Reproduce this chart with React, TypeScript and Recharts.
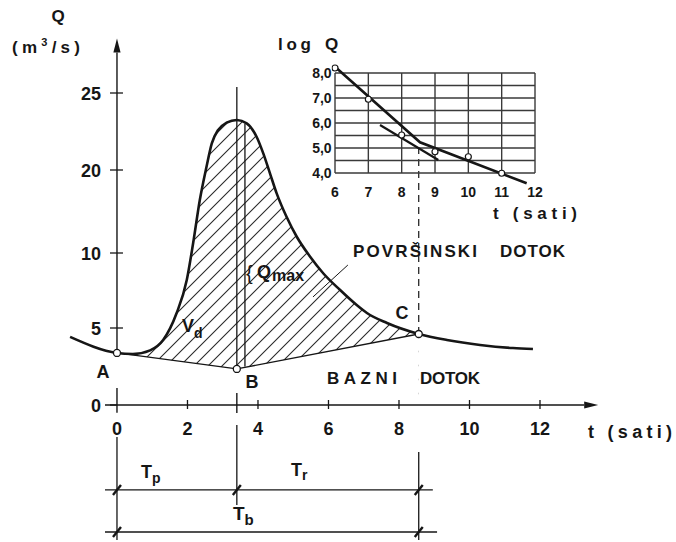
import React from 'react';
import { ComposedChart, Line, Area, XAxis, YAxis, ReferenceLine, ReferenceDot } from 'recharts';

// hydrograph Q(t) (t in hours, Q in m3/s)
const flowT = [-1.33, 0, 0.45, 0.94, 1.31, 1.69, 1.98, 2.16, 2.35, 2.54, 2.69, 2.87, 3.11, 3.4, 3.68, 3.96, 4.15, 4.34, 4.53, 4.81, 5.1, 5.48, 5.85, 6.33, 6.8, 7.09, 7.66, 8.56, 9.36, 10.3, 11.23, 11.8];
const flowQ = [4.42, 3.38, 3.31, 3.55, 4.22, 5.98, 8.2, 11.17, 16.39, 20.21, 21.73, 22.6, 23.07, 23.25, 23.03, 22.16, 21.08, 19.6, 17.19, 14.37, 11.96, 9.75, 8.65, 7.53, 6.53, 6.0, 5.33, 4.61, 4.22, 3.9, 3.7, 3.64];

// base flow separation A - B - C
const baseNames = ['A', 'B', 'C'];
const baseT = [0, 3.4, 8.56];
const baseQ = [3.38, 2.34, 4.61];

// axes
const xTicks = [0, 2, 4, 6, 8, 10, 12];
const yTicks = [0, 5, 10, 20, 25];
const yKnots = [0, 5, 10, 20, 25, 28.5];
const yFrac = [0, 77 / 365, 152 / 365, 235 / 365, 312 / 365, 1];

// inset: log Q recession
const logT = [6, 7, 8, 9, 10, 11];
const logQ = [8.2, 6.95, 5.52, 4.85, 4.65, 3.99];
const fit1T = [6, 8.55, 11.75];
const fit1Q = [8.25, 5.23, 3.59];
const fit2T = [7.35, 9.1];
const fit2Q = [5.92, 4.52];
const logTicksT = [6, 7, 8, 9, 10, 11, 12];
const logTicksQ = [4, 5, 6, 7, 8];
const logGridQ = [4, 4.5, 5, 5.5, 6, 6.5, 7, 7.5, 8];

const INK = '#161616';
const FONT = "'Liberation Sans', Arial, sans-serif";

const W = 676;
const H = 542;
const X_MIN = -1.5;
const X_MAX = 14;
const Y_AXIS_W = 30;
const M = { top: 40, right: 65.5, bottom: 107, left: 64.1 - Y_AXIS_W };
const PLOT_LEFT = M.left + Y_AXIS_W;
const PLOT_W = W - PLOT_LEFT - M.right;
const X0 = PLOT_LEFT + ((0 - X_MIN) / (X_MAX - X_MIN)) * PLOT_W;

// piecewise scale, the Q axis of the drawing is not linear (15 is skipped)
function brokenScale(dom: number[] = [0, 28.5], rng: number[] = [1, 0]): any {
  let d = dom.slice();
  let r = rng.slice();
  const s: any = (v: number) => {
    let i = 0;
    while (i < yKnots.length - 2 && v > yKnots[i + 1]) i++;
    const f = yFrac[i] + ((v - yKnots[i]) / (yKnots[i + 1] - yKnots[i])) * (yFrac[i + 1] - yFrac[i]);
    return r[0] + f * (r[1] - r[0]);
  };
  s.domain = (nd?: number[]) => {
    if (nd === undefined) return d.slice();
    d = nd.slice();
    return s;
  };
  s.range = (nr?: number[]) => {
    if (nr === undefined) return r.slice();
    r = nr.slice();
    return s;
  };
  s.copy = () => brokenScale(d, r);
  s.ticks = () => yTicks.slice();
  s.invert = (px: number) => {
    const f = (px - r[0]) / (r[1] - r[0]);
    let i = 0;
    while (i < yFrac.length - 2 && f > yFrac[i + 1]) i++;
    return yKnots[i] + ((f - yFrac[i]) / (yFrac[i + 1] - yFrac[i])) * (yKnots[i + 1] - yKnots[i]);
  };
  return s;
}

const flowData = flowT.map((t, i) => ({ t, q: flowQ[i] }));
const hatchData = flowData.filter((d) => d.t >= baseT[0] && d.t <= baseT[2]);
const baseData = baseT.map((t, i) => ({ t, q: baseQ[i], name: baseNames[i] }));
const logData = logT.map((t, i) => ({ t, q: logQ[i] }));
const fit1Data = fit1T.map((t, i) => ({ t, q: fit1Q[i] }));
const fit2Data = fit2T.map((t, i) => ({ t, q: fit2Q[i] }));

const arrowShape = (props: any) => {
  const { x1, y1, x2, y2 } = props;
  const a = Math.atan2(y2 - y1, x2 - x1);
  const L = 14;
  const hw = 3.6;
  const bx = x2 - L * Math.cos(a);
  const by = y2 - L * Math.sin(a);
  const px = -Math.sin(a) * hw;
  const py = Math.cos(a) * hw;
  return (
    <g>
      <line x1={x1} y1={y1} x2={bx} y2={by} stroke={INK} strokeWidth={1.4} />
      <polygon points={`${x2},${y2} ${bx + px},${by + py} ${bx - px},${by - py}`} fill={INK} />
    </g>
  );
};

const slashShape = (props: any) => (
  <line x1={props.cx - 4} y1={props.cy + 5} x2={props.cx + 4} y2={props.cy - 5} stroke={INK} strokeWidth={2.4} />
);

const XTick = (props: any) => {
  const { x, y, payload } = props;
  return (
    <g>
      {payload.value !== 0 && <line x1={x} x2={x} y1={y - 5} y2={y + 4} stroke={INK} strokeWidth={1.3} />}
      <text x={x} y={y + 30} textAnchor="middle" fontSize={18} fontWeight="bold" fontFamily={FONT} fill={INK}>
        {payload.value}
      </text>
    </g>
  );
};

const YTick = (props: any) => {
  const { y, payload } = props;
  return (
    <g>
      <line x1={X0 - 7} x2={payload.value === 0 ? X0 : X0 + 6} y1={y} y2={y} stroke={INK} strokeWidth={1.3} />
      <text x={X0 - 16} y={y + 6.5} textAnchor="end" fontSize={18} fontWeight="bold" fontFamily={FONT} fill={INK}>
        {payload.value}
      </text>
    </g>
  );
};

const InsetXTick = (props: any) => (
  <text x={props.x} y={props.y + 11} textAnchor="middle" fontSize={14} fontWeight="bold" fontFamily={FONT} fill={INK}>
    {props.payload.value}
  </text>
);

const InsetYTick = (props: any) => (
  <text x={props.x} y={props.y + 5} textAnchor="end" fontSize={14} fontWeight="bold" fontFamily={FONT} fill={INK}>
    {props.payload.value.toFixed(1).replace('.', ',')}
  </text>
);

function MainChart() {
  return (
    <ComposedChart width={W} height={H} margin={M}>
      <defs>
        <pattern id="hatch" patternUnits="userSpaceOnUse" width="14" height="14">
          <path d="M-2,2 L2,-2 M0,14 L14,0 M12,16 L16,12" stroke="#2a2a2a" strokeWidth="1.1" />
        </pattern>
      </defs>
      <XAxis
        dataKey="t"
        type="number"
        domain={[X_MIN, X_MAX]}
        ticks={xTicks}
        axisLine={false}
        tickLine={false}
        tickSize={0}
        tickMargin={0}
        height={30}
        tick={<XTick />}
        allowDataOverflow
      />
      <YAxis
        type="number"
        scale={brokenScale()}
        domain={[0, 28.5]}
        ticks={yTicks}
        width={Y_AXIS_W}
        interval={0}
        axisLine={false}
        tickLine={false}
        tickSize={0}
        tickMargin={0}
        tick={<YTick />}
        allowDataOverflow
      />
      <Area data={hatchData} dataKey="q" type="monotone" stroke="none" fill="url(#hatch)" fillOpacity={1} isAnimationActive={false} />
      <Area data={baseData} dataKey="q" type="linear" stroke="none" fill="#fff" fillOpacity={1} isAnimationActive={false} />

      {/* axes drawn by hand: the y axis is broken below A */}
      <ReferenceLine segment={[{ x: 0, y: baseQ[0] }, { x: 0, y: 28.6 }]} shape={arrowShape} ifOverflow="visible" />
      <ReferenceLine segment={[{ x: 0, y: 1.1 }, { x: 0, y: -0.5 }]} stroke={INK} strokeWidth={1.4} ifOverflow="visible" />
      <ReferenceLine segment={[{ x: -0.34, y: 0 }, { x: 13.65, y: 0 }]} shape={arrowShape} ifOverflow="visible" />
      <ReferenceLine segment={[{ x: baseT[1], y: 0.78 }, { x: baseT[1], y: -0.52 }]} stroke={INK} strokeWidth={1.4} ifOverflow="visible" />

      <ReferenceLine segment={[{ x: baseT[1], y: 25.4 }, { x: baseT[1], y: baseQ[1] }]} stroke={INK} strokeWidth={1.3} ifOverflow="visible" />
      <ReferenceLine segment={[{ x: 3.63, y: 23.0 }, { x: 3.63, y: 2.5 }]} stroke={INK} strokeWidth={1.3} ifOverflow="visible" />
      <ReferenceLine segment={[{ x: baseT[2], y: 21.5 }, { x: baseT[2], y: baseQ[2] }]} stroke={INK} strokeWidth={1.2} strokeDasharray="7 5" ifOverflow="visible" />
      <ReferenceLine segment={[{ x: 6.55, y: 9.2 }, { x: 5.56, y: 7.07 }]} stroke={INK} strokeWidth={1} ifOverflow="visible" />

      <Line data={flowData} dataKey="q" type="monotone" stroke={INK} strokeWidth={2.6} dot={false} isAnimationActive={false} />
      <Line
        data={baseData}
        dataKey="q"
        type="linear"
        stroke={INK}
        strokeWidth={1.3}
        dot={{ r: 3.5, fill: '#fff', stroke: INK, strokeWidth: 1.3 }}
        isAnimationActive={false}
      />
    </ComposedChart>
  );
}

const ROW_TOP = 10;
const ROW_SPLIT = 3.8;
const ROW_TOTAL = 0.73;

function DurationChart() {
  return (
    <ComposedChart width={W} height={H - 405} margin={{ top: 0, right: M.right, bottom: 0, left: PLOT_LEFT }}>
      <XAxis dataKey="t" type="number" domain={[X_MIN, X_MAX]} hide allowDataOverflow />
      <YAxis type="number" domain={[0, ROW_TOP]} hide allowDataOverflow />
      <ReferenceLine segment={[{ x: baseT[0], y: 7.66 }, { x: baseT[0], y: 0.15 }]} stroke={INK} strokeWidth={1.3} ifOverflow="visible" />
      <ReferenceLine segment={[{ x: baseT[1], y: 8.54 }, { x: baseT[1], y: 2.7 }]} stroke={INK} strokeWidth={1.3} ifOverflow="visible" />
      <ReferenceLine segment={[{ x: baseT[2], y: 6.57 }, { x: baseT[2], y: 0.15 }]} stroke={INK} strokeWidth={1.3} ifOverflow="visible" />
      <ReferenceLine segment={[{ x: -0.34, y: ROW_SPLIT }, { x: 8.96, y: ROW_SPLIT }]} stroke={INK} strokeWidth={1.3} ifOverflow="visible" />
      <ReferenceLine segment={[{ x: -0.34, y: ROW_TOTAL }, { x: 9.08, y: ROW_TOTAL }]} stroke={INK} strokeWidth={1.3} ifOverflow="visible" />
      {baseT.map((t) => (
        <ReferenceDot key={'s' + t} x={t} y={ROW_SPLIT} shape={slashShape} ifOverflow="visible" />
      ))}
      {[baseT[0], baseT[2]].map((t) => (
        <ReferenceDot key={'b' + t} x={t} y={ROW_TOTAL} shape={slashShape} ifOverflow="visible" />
      ))}
    </ComposedChart>
  );
}

function InsetChart() {
  return (
    <ComposedChart width={300} height={170} margin={{ top: 23, right: 48.33, bottom: 4.5, left: 1.67 }}>
      <XAxis
        dataKey="t"
        type="number"
        domain={[5.9, 12.2]}
        ticks={logTicksT}
        interval={0}
        height={20}
        axisLine={false}
        tickLine={false}
        tickSize={0}
        tickMargin={0}
        tick={<InsetXTick />}
        allowDataOverflow
      />
      <YAxis
        type="number"
        domain={[3.5, 8.4]}
        ticks={logTicksQ}
        interval={0}
        width={40}
        axisLine={false}
        tickLine={false}
        tickSize={0}
        tickMargin={0}
        tick={<InsetYTick />}
        allowDataOverflow
      />
      {logGridQ.map((q) => (
        <ReferenceLine key={'h' + q} segment={[{ x: 6, y: q }, { x: 12, y: q }]} stroke="#3a3a3a" strokeWidth={1.4} ifOverflow="visible" />
      ))}
      {logTicksT.map((t) => (
        <ReferenceLine key={'v' + t} segment={[{ x: t, y: 4 }, { x: t, y: 8 }]} stroke="#3a3a3a" strokeWidth={1.4} ifOverflow="visible" />
      ))}
      <Line data={fit1Data} dataKey="q" type="linear" stroke={INK} strokeWidth={2.6} dot={false} isAnimationActive={false} />
      <Line data={fit2Data} dataKey="q" type="linear" stroke={INK} strokeWidth={2.2} dot={false} isAnimationActive={false} />
      <Line
        data={logData}
        dataKey="q"
        stroke="none"
        dot={{ r: 3, fill: '#fff', stroke: INK, strokeWidth: 1.2 }}
        isAnimationActive={false}
      />
    </ComposedChart>
  );
}

const txt = { fontFamily: FONT, fill: INK, fontWeight: 'bold' } as const;

function Labels() {
  return (
    <svg width={W} height={H} style={{ position: 'absolute', left: 0, top: 0, pointerEvents: 'none' }}>
      <text x={58} y={22} fontSize={17} textAnchor="middle" {...txt}>Q</text>
      <text x={12} y={53} fontSize={17} textLength={68} {...txt}>
        (m<tspan fontSize={11} dy={-7}>3</tspan>
        <tspan dy={7}>/s)</tspan>
      </text>
      <text x={278} y={50} fontSize={17} textLength={33} {...txt}>log</text>
      <text x={325} y={50} fontSize={17} {...txt}>Q</text>
      <text x={493} y={219} fontSize={17} textLength={84} {...txt}>t (sati)</text>
      <text x={588} y={438} fontSize={18} textLength={84} {...txt}>t (sati)</text>

      <text x={353} y={257} fontSize={17} textLength={124} {...txt}>POVRŠINSKI</text>
      <text x={500} y={257} fontSize={17} textLength={65} {...txt}>DOTOK</text>
      <text x={327} y={384} fontSize={17} textLength={70} {...txt}>BAZNI</text>
      <text x={420} y={384} fontSize={17} textLength={60} {...txt}>DOTOK</text>

      <text x={103} y={378} fontSize={18} textAnchor="middle" {...txt}>{baseNames[0]}</text>
      <text x={252} y={388} fontSize={18} textAnchor="middle" {...txt}>{baseNames[1]}</text>
      <text x={402} y={319} fontSize={18} textAnchor="middle" {...txt}>{baseNames[2]}</text>

      <text x={182} y={332} fontSize={18} {...txt}>
        V<tspan fontSize={14} dy={6}>d</tspan>
      </text>
      <text x={246} y={280} fontSize={20} fontFamily={FONT} fill={INK}>{'{'}</text>
      <text x={257} y={278} fontSize={18} {...txt}>
        Q<tspan fontSize={16} dy={3} dx={1}>max</tspan>
      </text>

      <text x={141} y={478} fontSize={18} {...txt}>
        T<tspan fontSize={14} dy={5}>p</tspan>
      </text>
      <text x={291} y={476} fontSize={18} {...txt}>
        T<tspan fontSize={14} dy={4}>r</tspan>
      </text>
      <text x={233} y={520} fontSize={19} {...txt}>
        T<tspan fontSize={15} dy={5}>b</tspan>
      </text>
    </svg>
  );
}

export default function App() {
  return (
    <div style={{ position: 'absolute', left: 0, top: 0, width: W, height: H, background: '#fff', overflow: 'hidden' }}>
      <div style={{ position: 'absolute', left: 0, top: 0 }}>
        <MainChart />
      </div>
      <div style={{ position: 'absolute', left: 0, top: 405 }}>
        <DurationChart />
      </div>
      <div style={{ position: 'absolute', left: 290, top: 40 }}>
        <InsetChart />
      </div>
      <Labels />
    </div>
  );
}
